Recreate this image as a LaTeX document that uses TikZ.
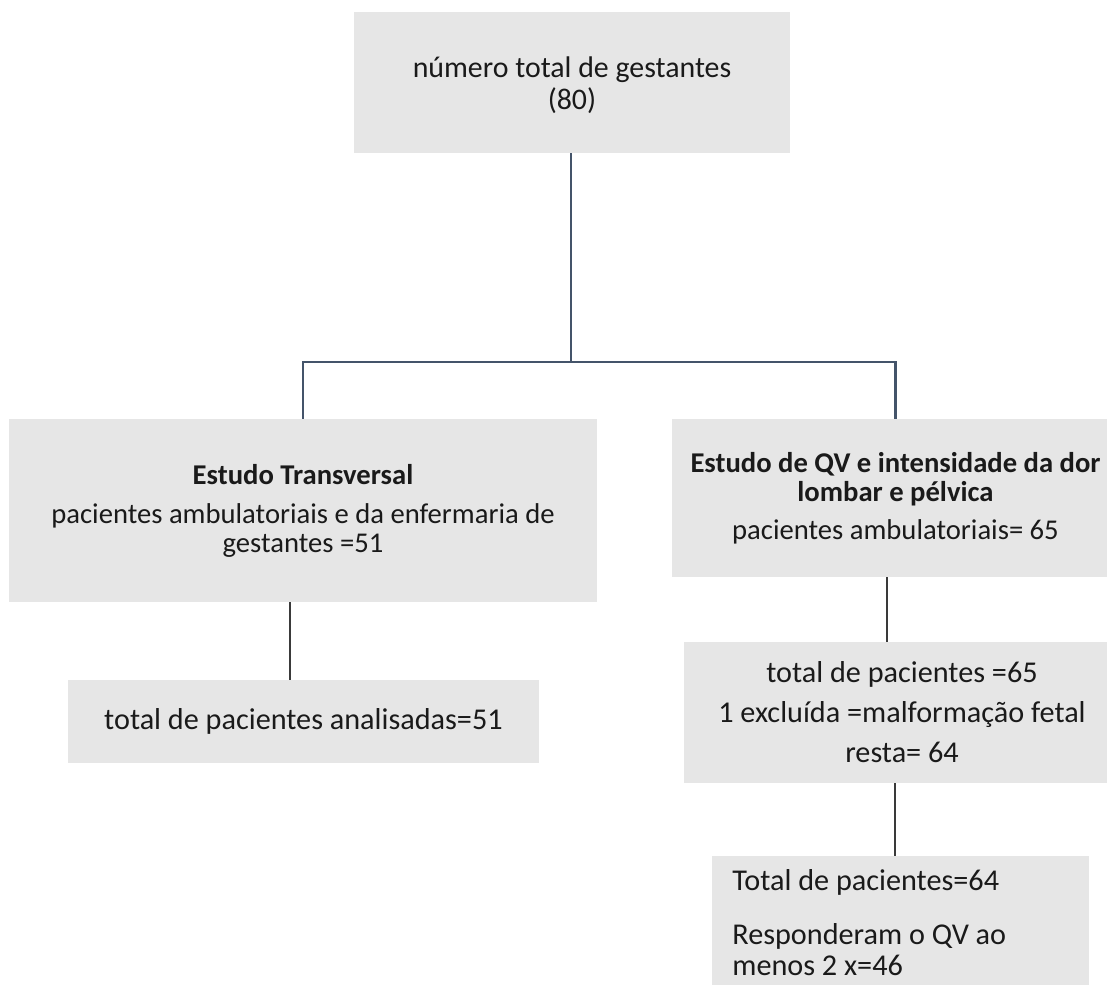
\documentclass[tikz,border=0pt]{standalone}
\usepackage{fontspec}
\setmainfont{Carlito}
\usepackage{tikz}
\usetikzlibrary{positioning, calc}

\definecolor{boxgray}{HTML}{E6E6E6}
\definecolor{trunkblue}{HTML}{44546A}
\definecolor{linkgray}{HTML}{3A3A3A}
\definecolor{inkdark}{HTML}{1A1A1A}

\begin{document}
\begin{tikzpicture}[x=0.02cm, y=-0.02cm,
    box/.style={fill=boxgray, inner sep=0pt, align=center, text=inkdark,
        font=\fontsize{16.3}{16.5}\selectfont},
    bigger/.style={font=\fontsize{17.2}{17.2}\selectfont},
    trunk/.style={draw=trunkblue, line width=1.5pt},
    link/.style={draw=linkgray, line width=1.1pt}]
\useasboundingbox (0,0) rectangle (1107,985);

% top of the tree
\node[box, minimum width=8.72cm, minimum height=2.82cm,
    font=\fontsize{17}{17}\selectfont] (total) at (572,82.5)
    {\rule{0pt}{15pt}número total de gestantes\\[1.5pt](80)};

% the two studies
\node[box, minimum width=11.76cm, minimum height=3.66cm] (transv) at (303,510.5)
    {\textbf{Estudo Transversal}\\[5.7pt]pacientes ambulatoriais e da enfermaria de\\gestantes =51};
\node[box, minimum width=8.94cm, minimum height=3.16cm] (qv) at (895.5,498)
    {\textbf{Estudo de QV e intensidade da dor}\\\textbf{lombar e pélvica}\\[5.1pt]pacientes ambulatoriais= 65};

% counts below
\node[box, bigger, minimum width=9.42cm, minimum height=1.66cm] (analis) at (303.5,721.5)
    {total de pacientes analisadas=51};
\node[box, bigger, minimum width=8.72cm, minimum height=2.82cm] (excl) at (902,712.5)
    {total de pacientes =65\\[5.6pt]1 excluída =malformação fetal\\[5.6pt]resta= 64};
\node[box, minimum width=7.54cm, minimum height=2.88cm] (respond) at (900.5,928) {};
\node[box, bigger, fill=none, align=left, anchor=north west] (respondtxt) at (732,869)
    {Total de pacientes=64\\[13.6pt]Responderam o QV ao\\[0.6pt]menos 2 x=46};

% connectors
\coordinate (fork) at (571,362);
\draw[trunk] (total.south -| fork) -- (fork);
\draw[trunk] (transv.north) |- (fork) -| (qv.north);

\coordinate (t1) at ([xshift=-0.26cm]transv.south);
\draw[link] (t1) -- (t1 |- analis.north);
\coordinate (q1) at ([xshift=-0.17cm]qv.south);
\draw[link] (q1) -- (q1 |- excl.north);
\coordinate (e1) at ([xshift=-0.11cm]respond.north);
\draw[link] (e1 |- excl.south) -- (e1);
\end{tikzpicture}
\end{document}
